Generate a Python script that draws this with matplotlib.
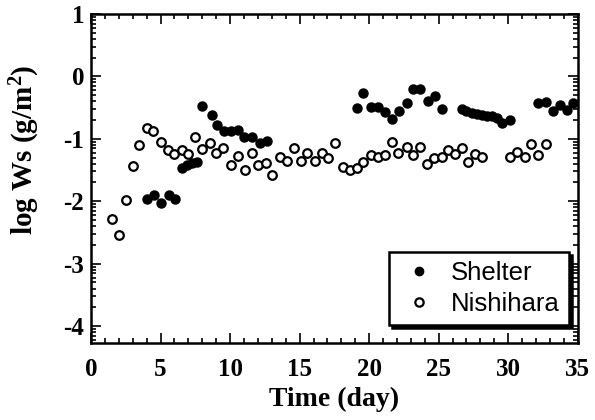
import numpy as np
import matplotlib
matplotlib.use("Agg")
import matplotlib.pyplot as plt
from matplotlib.ticker import MultipleLocator, FixedLocator

# Shelter (filled)
shelter_x = [4.0, 4.55, 5.03, 5.6, 6.04,
             6.56, 6.88, 7.24, 7.6,
             7.98, 8.68, 9.04, 9.56, 10.04, 10.59, 11.0, 11.55, 12.15, 12.63,
             19.1, 19.58, 20.1, 20.65, 21.13, 21.62, 22.16, 22.7, 23.17, 23.65, 24.2, 24.73, 25.21,
             26.65, 27.0, 27.37, 27.73, 28.09, 28.45, 28.81, 29.17, 29.53, 30.12,
             32.16, 32.71, 33.24, 33.72, 34.2, 34.67]
shelter_y = [-1.97, -1.90, -2.03, -1.90, -1.96,
             -1.47, -1.42, -1.39, -1.37,
             -0.47, -0.62, -0.78, -0.87, -0.87, -0.86, -0.97, -0.97, -1.07, -1.03,
             -0.50, -0.27, -0.49, -0.49, -0.57, -0.68, -0.55, -0.43, -0.20, -0.20, -0.40, -0.31, -0.52,
             -0.52, -0.55, -0.59, -0.61, -0.62, -0.63, -0.64, -0.67, -0.74, -0.70,
             -0.43, -0.41, -0.55, -0.46, -0.54, -0.43]

# Nishihara (open)
nishi_x = [1.49, 2.01, 2.49, 3.04, 3.47, 4.0, 4.48, 5.03, 5.51, 5.99, 6.52, 7.0, 7.48, 8.0,
           8.55, 8.98, 9.51, 10.04, 10.59, 11.07, 11.55, 12.03, 12.58, 13.03, 13.58, 14.11,
           14.59, 15.07, 15.55, 16.1, 16.59, 17.06, 17.54, 18.13, 18.61, 19.09, 19.57, 20.1,
           20.65, 21.13, 21.61, 22.09, 22.69, 23.17, 23.65, 24.18, 24.66, 25.21, 25.69, 26.17,
           26.65, 27.12, 27.61, 28.09, 30.12, 30.65, 31.2, 31.63, 32.16, 32.71]
nishi_y = [-2.29, -2.54, -1.98, -1.44, -1.10, -0.83, -0.88, -1.05, -1.18, -1.25, -1.18, -1.25, -0.97, -1.16,
           -1.07, -1.22, -1.14, -1.42, -1.27, -1.50, -1.22, -1.42, -1.39, -1.58, -1.29, -1.35,
           -1.15, -1.35, -1.23, -1.35, -1.23, -1.30, -1.07, -1.45, -1.50, -1.47, -1.37, -1.26,
           -1.29, -1.26, -1.05, -1.22, -1.13, -1.26, -1.13, -1.41, -1.30, -1.29, -1.18, -1.25,
           -1.14, -1.37, -1.25, -1.29, -1.29, -1.21, -1.29, -1.09, -1.26, -1.09]

x_ticks = [0, 5, 10, 15, 20, 25, 30, 35]
y_ticks = [1, 0, -1, -2, -3, -4]

plt.rcParams['font.family'] = ['Liberation Serif', 'DejaVu Serif']
plt.rcParams['mathtext.fontset'] = 'custom'
plt.rcParams['mathtext.rm'] = 'Liberation Serif:bold'
plt.rcParams['mathtext.it'] = 'Liberation Serif:bold:italic'
plt.rcParams['mathtext.bf'] = 'Liberation Serif:bold'

fig = plt.figure(figsize=(5.95, 4.2), dpi=100)
ax = fig.add_axes([0.153, 0.1833, 0.818, 0.7837])

ax.plot(shelter_x, shelter_y, 'o', color='black', ms=6.5, mec='black', label='Shelter', zorder=3)
ax.plot(nishi_x, nishi_y, 'o', color='white', ms=6.2, mec='black', mew=1.6, label='Nishihara', zorder=3)

ax.set_xlim(0, 35)
ax.set_ylim(-4.27, 1.0)
ax.set_xticks(x_ticks)
ax.set_yticks(y_ticks)
ax.set_xticklabels([str(t) for t in x_ticks], fontsize=18, fontweight='bold')
ax.set_yticklabels([str(t) for t in y_ticks], fontsize=18, fontweight='bold')
ax.xaxis.set_minor_locator(MultipleLocator(1))
minors = []
for n in range(-5, 1):
    for k in range(2, 10):
        v = n + np.log10(k)
        if -4.27 <= v <= 1.0:
            minors.append(v)
ax.yaxis.set_minor_locator(FixedLocator(minors))
ax.tick_params(which='both', direction='in', top=True, right=True, width=1.2)
ax.tick_params(which='major', length=7)
ax.tick_params(which='minor', length=3.5)
ax.tick_params(axis='y', which='major', pad=5)
ax.tick_params(axis='x', which='major', pad=11)
for s in ax.spines.values():
    s.set_linewidth(1.8)

ax.set_xlabel('Time (day)', fontsize=20, fontweight='bold', labelpad=4)
ax.set_ylabel('log Ws (g/m$^2$)', fontsize=21, fontweight='bold')
ax.yaxis.set_label_coords(-0.1, 0.587)

leg = ax.legend(loc='lower right', prop={'family': 'Liberation Sans', 'size': 18.5},
                frameon=True, fancybox=False,
                shadow={'color': 'black', 'alpha': 1.0},
                handletextpad=0.45, handlelength=1.6,
                borderpad=0.35, labelspacing=0.28, borderaxespad=0,
                bbox_to_anchor=(0.9815, 0.0547))
leg.get_frame().set_edgecolor('black')
leg.get_frame().set_linewidth(1.8)
leg.get_frame().set_alpha(1.0)
for h in leg.legend_handles:
    h.set_markersize(6)

fig.savefig('out.png', dpi=100)
